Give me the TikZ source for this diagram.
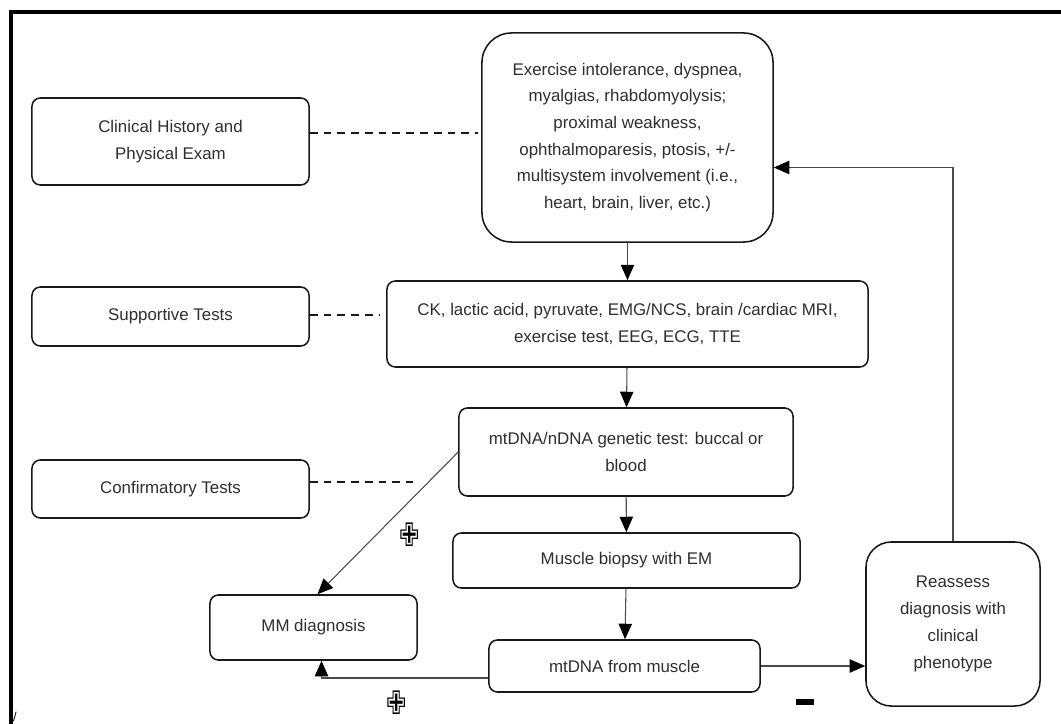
\documentclass[tikz,border=0pt]{standalone}
\usepackage{fontspec}
\setmainfont{Liberation Sans}
\newfontfamily\symfont{DejaVu Sans}
\usetikzlibrary{arrows.meta}
\definecolor{txtgray}{HTML}{2E2E2E}
\definecolor{linegray}{HTML}{4A4A4A}

\begin{document}
\begin{tikzpicture}[x=0.025cm,y=-0.025cm,
  box/.style={draw=black!90, line width=1.1pt, rounded corners=6pt, align=center, text=txtgray, font=\fontsize{12}{19}\selectfont, inner sep=0pt},
  arr/.style={-{Triangle[length=11pt,width=9.5pt,color=black]}, draw=linegray, line width=0.75pt},
  dashline/.style={draw=black!90, dash pattern=on 5.5pt off 4.3pt, line width=1.8pt},
  sign/.style={inner sep=0pt, font=\symfont\fontsize{23}{23}\selectfont}]

\useasboundingbox (0,0) rectangle (1061,724);

 \draw [line width=2.5pt] (11,724) -- (11,12) -- (1061,12);

 \node (top) at (627.5,137.5) [box, rounded corners=21pt, minimum width=7.275cm, minimum height=5.225cm]
   {Exercise intolerance, dyspnea,\\ myalgias, rhabdomyolysis;\\ proximal weakness,\\ ophthalmoparesis, ptosis, +/-\\ multisystem involvement (i.e.,\\ heart, brain, liver, etc.)};
 \node (clin) at (170.5,141.5) [box, minimum width=6.925cm, minimum height=2.175cm] {Clinical History and\\ Physical Exam};
 \node (sup) at (170.5,316.5) [box, minimum width=6.925cm, minimum height=1.475cm] {Supportive Tests};
 \node (conf) at (170.5,489) [box, minimum width=6.925cm, minimum height=1.45cm] {Confirmatory Tests};

 \node (ck) at (627.5,324) [box, minimum width=12.025cm, minimum height=2.15cm]
   {CK, lactic acid, pyruvate, EMG/NCS, brain /cardiac MRI,\\ exercise test, EEG, ECG, TTE};
 \node (gen) at (626,452) [box, minimum width=8.35cm, minimum height=2.2cm] {mtDNA/nDNA genetic test: buccal or\\ blood};
 \node (bio) at (626.5,560.5) [box, minimum width=8.675cm, minimum height=1.375cm] {Muscle biopsy with EM};
 \node (mus) at (624.5,666) [box, minimum width=6.775cm, minimum height=1.3cm] {mtDNA from muscle};
 \node (mmd) at (313.5,627.5) [box, minimum width=5.175cm, minimum height=1.625cm] {MM diagnosis};
 \node (rea) at (953,624) [box, rounded corners=18pt, minimum width=4.35cm, minimum height=4.1cm]
   {Reassess\\ diagnosis with\\ clinical\\ phenotype};

 \coordinate (d1) at (478,133);
 \coordinate (d2) at (380,315);
 \coordinate (d3) at (413,482);
 \draw [dashline] (clin.east |- d1) -- (d1);
 \draw [dashline] (sup.east |- d2) -- (d2);
 \draw [dashline] (conf.east |- d3) -- (d3);

 \draw [arr] (top) -- (ck);
 \draw [arr] (ck) -- (gen);
 \draw [arr] (gen) -- (bio);
 \draw [arr] (bio) -- (mus);
 \draw [arr] (gen.west) -- ([xshift=0.1cm]mmd.north);
 \draw [arr] ([yshift=-0.3cm]mus.west) -| ([xshift=0.2cm]mmd.south);
 \draw [arr] (mus.east) -- (mus.east -| rea.west);
 \draw [arr] (rea.north) |- ([yshift=-0.75cm]top.east);

 \node (plus1) at (410,535) [sign] {\scalebox{0.75}[1]{✙}};
 \node (plus2) at (397,703) [sign] {\scalebox{0.75}[1]{✙}};
 \node (minus) at (805,702) [inner sep=0pt] {\rule{13.5pt}{3.6pt}};

 \node (slash) at (15,717) [inner sep=0pt, font=\fontsize{9}{9}\selectfont] {/};

\end{tikzpicture}
\end{document}
